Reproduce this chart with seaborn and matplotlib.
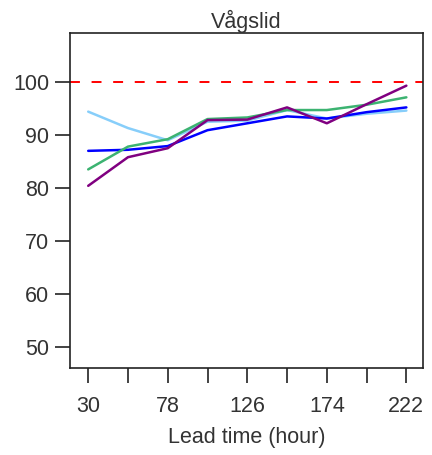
import matplotlib
matplotlib.use("Agg")
import matplotlib.pyplot as plt
import seaborn as sns
import pandas as pd

# Lead times (hours) and skill scores per series
lead_time = [30, 54, 78, 102, 126, 150, 174, 198, 222]
series_light = [94.4, 91.3, 89.0, 92.5, 92.7, 94.7, 93.1, 94.0, 94.6]
series_blue = [87.0, 87.2, 87.9, 90.9, 92.2, 93.5, 93.1, 94.3, 95.2]
series_green = [83.5, 87.8, 89.2, 93.0, 93.3, 94.7, 94.7, 95.7, 97.1]
series_purple = [80.4, 85.8, 87.5, 92.8, 92.9, 95.2, 92.2, 95.8, 99.3]
series_names = ["s1", "s2", "s3", "s4"]
series_colors = ["#87CEFA", "#0000FF", "#3CB371", "#800080"]
reference_level = 100
x_ticks = [30, 54, 78, 102, 126, 150, 174, 198, 222]
x_ticklabels = ["30", "", "78", "", "126", "", "174", "", "222"]
y_ticks = [50, 60, 70, 80, 90, 100]

frames = []
for name, vals in zip(series_names, [series_light, series_blue, series_green, series_purple]):
    frames.append(pd.DataFrame({"lead": lead_time, "score": vals, "series": name}))
df = pd.concat(frames, ignore_index=True)

sns.set_style("ticks")
plt.rcParams["font.family"] = ["Liberation Sans", "DejaVu Sans"]

fig = plt.figure(figsize=(4.32, 4.55), dpi=100)
ax = fig.add_axes([0.162, 0.191, 0.817, 0.736])

sns.lineplot(data=df, x="lead", y="score", hue="series", palette=series_colors,
             hue_order=series_names, linewidth=1.8, legend=False, ax=ax)
ax.axhline(reference_level, color="#FF0000", linestyle=(0, (5.1, 6.0)), linewidth=1.4)

ax.set_xlim(19, 232)
ax.set_ylim(46, 109.2)
ax.set_xticks(x_ticks)
ax.set_xticklabels(x_ticklabels)
ax.set_yticks(y_ticks)
ax.tick_params(axis="both", direction="out", length=11, width=1.2, labelsize=15.5,
               colors="#222222", labelcolor="#333333")
ax.tick_params(axis="x", pad=9)
ax.tick_params(axis="y", pad=4)
ax.set_xlabel("Lead time (hour)", fontsize=15.5, color="#333333", labelpad=7)
ax.set_ylabel("")
ax.set_title("Vågslid", fontsize=15.5, color="#333333", pad=4)
for sp in ax.spines.values():
    sp.set_linewidth(1.2)
    sp.set_color("#222222")

fig.savefig("out.png", dpi=100)
